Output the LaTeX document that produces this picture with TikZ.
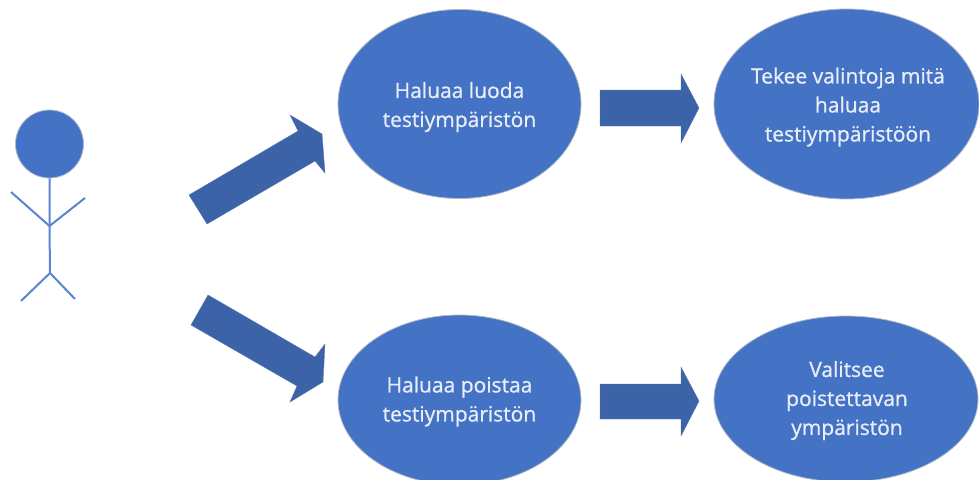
\documentclass[tikz,border=0pt]{standalone}
\usepackage{fontspec}
\setmainfont{Open Sans}
\newfontfamily\labelfont{Open Sans}[FakeBold=0.9]
\definecolor{fillblue}{RGB}{68,114,196}
\definecolor{arrowblue}{RGB}{60,98,168}
\definecolor{limb}{RGB}{88,132,208}
\definecolor{rimgrey}{RGB}{178,186,200}
\definecolor{labeltext}{RGB}{232,237,248}
\usetikzlibrary{shapes.geometric}
\tikzset{
  bubble/.style={ellipse,fill=fillblue,draw=rimgrey,line width=0.8pt,inner sep=0pt,minimum width=#1},
  label text/.style={text=labeltext,font=\labelfont\fontsize{21}{29}\selectfont,align=center},
  blockarrow/.style={fill=arrowblue,draw=arrowblue!85!white,line width=0.4pt,line join=miter},
  limbline/.style={draw=limb,line width=2pt}
}
\begin{document}
\begin{tikzpicture}[x=1pt,y=-1pt]
\useasboundingbox (0,0) rectangle (979,479);
\begin{scope}
\clip (0,0) rectangle (979,479);
% use-case bubbles
\node[bubble=243pt,minimum height=189pt] (wantcreate) at (459.5,104) {};
\node[bubble=265pt,minimum height=190pt] (choose) at (846.5,104) {};
\node[bubble=243pt,minimum height=170pt] (wantdelete) at (459.5,400) {};
\node[bubble=264pt,minimum height=166pt] (select) at (846,399) {};
\end{scope}
\node[label text] (t1) at (459.5,107) {Haluaa luoda\\testiympäristön};
\node[label text] (t2) at (848,107) {Tekee valintoja mitä\\haluaa\\testiympäristöön};
\node[label text] (t3) at (459.5,401.5) {Haluaa poistaa\\testiympäristön};
\node[label text] (t4) at (847,400.5) {Valitsee\\poistettavan\\ympäristön};
% block arrows
\fill[blockarrow] (189,195) -- (207,224) -- (315,161) -- (325,173) -- (322,134) -- (290,115) -- (298,131) -- cycle;
\fill[blockarrow] (208,295) -- (191,325) -- (297,386) -- (290,402) -- (323,382) -- (325,344) -- (315,357) -- cycle;
\fill[blockarrow] (600,90) -- (600,126) -- (681,126) -- (681,143) -- (699,108) -- (681,74) -- (681,90) -- cycle;
\fill[blockarrow] (600,384) -- (600,419) -- (681,419) -- (681,436) -- (699,401) -- (681,367) -- (681,384) -- cycle;
% stick figure
\coordinate (hip) at (50,273);
\coordinate (chest) at (49.5,226);
\coordinate (handl) at (11,192);
\coordinate (handr) at (85,198);
\coordinate (footl) at (21,301);
\coordinate (footr) at (75,299);
\node[circle,fill=fillblue,draw=rimgrey,line width=0.8pt,minimum size=68pt,inner sep=0pt] (head) at (49.5,144) {};
\draw[limbline] (head.south) -- (chest) -- (hip);
\draw[limbline] (handl) -- (chest) -- (handr);
\draw[limbline] (footl) -- (hip) -- (footr);
\end{tikzpicture}
\end{document}
